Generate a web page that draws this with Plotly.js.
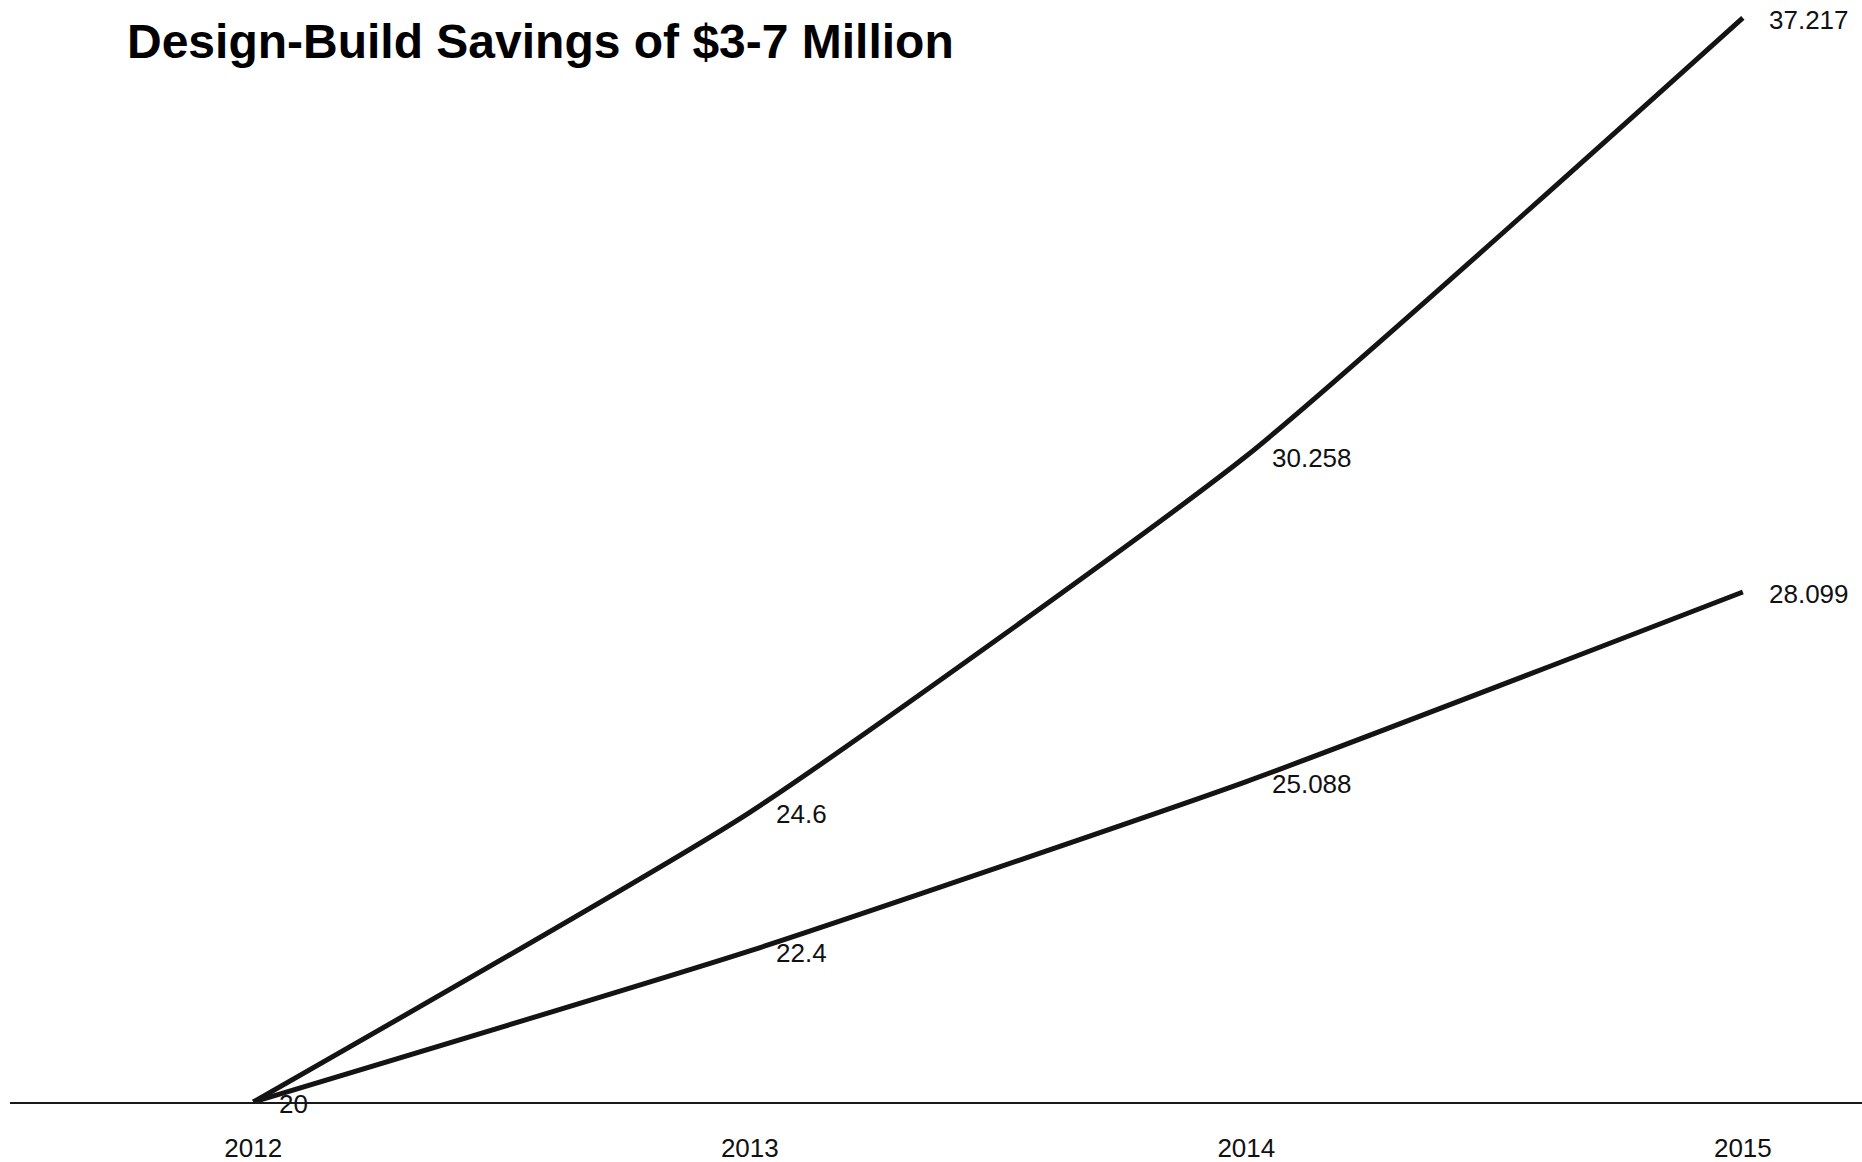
<!DOCTYPE html>
<html>
<head>
<meta charset="utf-8">
<script src="https://cdn.plot.ly/plotly-3.0.1.min.js"></script>
<style>
  html, body { margin: 0; padding: 0; background: #ffffff; }
  #chart { width: 1862px; height: 1162px; }
</style>
</head>
<body>
<div id="chart"></div>
<script>
// ---- data ----
const years = ["2012", "2013", "2014", "2015"];
const upperSeries = [20, 24.6, 30.258, 37.217];
const lowerSeries = [20, 22.4, 25.088, 28.099];
const upperLabels = ["20", "24.6", "30.258", "37.217"];
const lowerLabels = ["", "22.4", "25.088", "28.099"];
const chartTitle = "Design-Build Savings of $3-7 Million";

function labelFont() {
  return { family: "Liberation Sans, Arial, sans-serif", size: 26, color: "#111111" };
}

function lineTrace(yvals) {
  return {
    type: "scatter",
    mode: "lines",
    x: years,
    y: yvals,
    line: { color: "#141414", width: 5, shape: "spline", smoothing: 0.5 },
    hoverinfo: "skip",
    showlegend: false
  };
}

const annotations = [];
function addLabels(yvals, labels) {
  for (let i = 0; i < years.length; i++) {
    if (!labels[i]) continue;
    annotations.push({
      x: i, y: yvals[i], xref: "x", yref: "y",
      text: labels[i], showarrow: false,
      xanchor: "left", yanchor: "middle",
      xshift: 24, yshift: -2,
      font: labelFont()
    });
  }
}
addLabels(upperSeries, upperLabels);
addLabels(lowerSeries, lowerLabels);

const layout = {
  width: 1862,
  height: 1162,
  paper_bgcolor: "#ffffff",
  plot_bgcolor: "#ffffff",
  margin: { l: 10, r: 0, t: 0, b: 60 },
  showlegend: false,
  title: {
    text: chartTitle,
    font: { family: "Liberation Sans, Arial, sans-serif", size: 48, color: "#000000", weight: "bold" },
    x: 127 / 1862, xref: "container", xanchor: "left",
    y: 1 - 24 / 1162, yref: "container", yanchor: "top"
  },
  xaxis: {
    type: "category",
    range: [-0.49, 3.24],
    showgrid: false,
    zeroline: false,
    showline: true,
    linecolor: "#1a1a1a",
    linewidth: 2,
    ticks: "outside",
    ticklen: 22,
    tickcolor: "rgba(0,0,0,0)",
    tickfont: labelFont(),
    fixedrange: true
  },
  yaxis: {
    range: [20, 37.5],
    showgrid: false,
    zeroline: false,
    showline: false,
    showticklabels: false,
    ticks: "",
    fixedrange: true
  },
  annotations: annotations
};

Plotly.newPlot("chart", [lineTrace(upperSeries), lineTrace(lowerSeries)], layout, { displayModeBar: false, staticPlot: true });
</script>
</body>
</html>
